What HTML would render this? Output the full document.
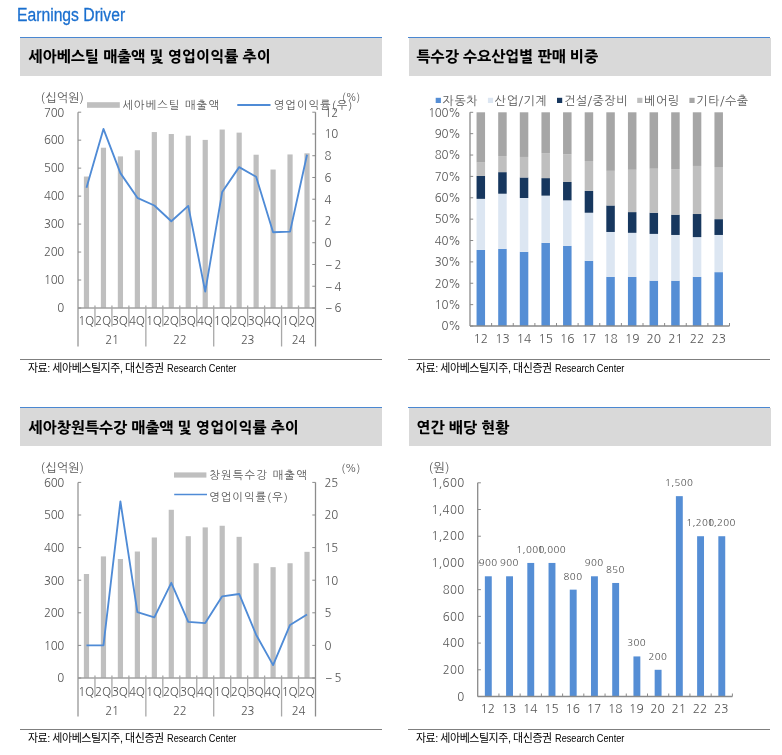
<!DOCTYPE html>
<html lang="ko"><head><meta charset="utf-8"><title>Earnings Driver</title>
<style>
html,body{margin:0;padding:0;background:#fff;}
body{width:782px;height:755px;position:relative;overflow:hidden;font-family:'NanumGothic', 'Noto Sans CJK KR', sans-serif;}
.title{position:absolute;left:17.0px;top:2.6px;font:18px 'Liberation Sans',sans-serif;letter-spacing:0px;transform:scaleX(0.872);transform-origin:0 0;color:#1a6fcf;white-space:nowrap;line-height:24px;-webkit-text-stroke:0.3px #1a6fcf;}
.hd{position:absolute;height:38px;background:#d9d9d9;}
.bl{position:absolute;height:1px;background:#4a87d1;}
.hd span{position:absolute;left:8.5px;top:0px;line-height:37px;font-weight:800;font-size:15px;color:#000;white-space:nowrap;font-family:'Liberation Sans','NanumGothic',sans-serif;letter-spacing:0px;}
.src{position:absolute;height:0;border-top:1px solid #7f7f7f;}
.src span{position:absolute;left:7.9px;top:1px;font-size:11px;line-height:14px;color:#000;white-space:nowrap;letter-spacing:-0.47px;font-family:'Liberation Sans','Noto Sans CJK KR',sans-serif;}
.src span b{font-weight:normal;letter-spacing:0px;display:inline-block;transform:scaleX(0.835);margin-left:1px;transform-origin:0 0;}
svg{position:absolute;left:0;top:0;}
</style></head>
<body>
<div class="title">Earnings Driver</div>
<div class="bl" style="left:20px;top:37px;width:362px;"></div>
<div class="hd" style="left:20px;top:38px;width:362px;"><span>세아베스틸 매출액 및 영업이익률 추이</span></div>
<div class="bl" style="left:408px;top:37px;width:362px;"></div>
<div class="hd" style="left:409px;top:38px;width:362px;"><span style="left:7.5px">특수강 수요산업별 판매 비중</span></div>
<div class="bl" style="left:20px;top:407px;width:362px;"></div>
<div class="hd" style="left:20px;top:408px;width:362px;"><span style="top:0.8px">세아창원특수강 매출액 및 영업이익률 추이</span></div>
<div class="bl" style="left:408px;top:407px;width:362px;"></div>
<div class="hd" style="left:409px;top:408px;width:362px;"><span style="left:7.5px;top:0.8px">연간 배당 현황</span></div>
<div class="src" style="left:20px;top:359px;width:362px;"><span>자료: 세아베스틸지주, 대신증권 <b>Research Center</b></span></div>
<div class="src" style="left:408px;top:359px;width:362px;"><span>자료: 세아베스틸지주, 대신증권 <b>Research Center</b></span></div>
<div class="src" style="left:20px;top:729px;width:362px;"><span>자료: 세아베스틸지주, 대신증권 <b>Research Center</b></span></div>
<div class="src" style="left:408px;top:729px;width:362px;"><span>자료: 세아베스틸지주, 대신증권 <b>Research Center</b></span></div>
<svg width="782" height="755" viewBox="0 0 782 755" shape-rendering="crispEdges">
<g shape-rendering="auto">
<rect x="83.88" y="176.53" width="5.2" height="131.47" fill="#bfbfbf"/>
<rect x="100.85" y="147.72" width="5.2" height="160.28" fill="#bfbfbf"/>
<rect x="117.81" y="156.39" width="5.2" height="151.61" fill="#bfbfbf"/>
<rect x="134.78" y="150.24" width="5.2" height="157.76" fill="#bfbfbf"/>
<rect x="151.74" y="132.06" width="5.2" height="175.94" fill="#bfbfbf"/>
<rect x="168.7" y="134.02" width="5.2" height="173.98" fill="#bfbfbf"/>
<rect x="185.67" y="135.7" width="5.2" height="172.3" fill="#bfbfbf"/>
<rect x="202.63" y="139.89" width="5.2" height="168.11" fill="#bfbfbf"/>
<rect x="219.6" y="129.54" width="5.2" height="178.46" fill="#bfbfbf"/>
<rect x="236.56" y="132.62" width="5.2" height="175.38" fill="#bfbfbf"/>
<rect x="253.53" y="154.72" width="5.2" height="153.28" fill="#bfbfbf"/>
<rect x="270.49" y="169.54" width="5.2" height="138.46" fill="#bfbfbf"/>
<rect x="287.45" y="154.44" width="5.2" height="153.56" fill="#bfbfbf"/>
<rect x="304.42" y="153.32" width="5.2" height="154.68" fill="#bfbfbf"/>
<line x1="78" y1="112.2" x2="78" y2="346.5" stroke="#b8b8b8" stroke-width="1.9"/>
<line x1="315.5" y1="112.2" x2="315.5" y2="346.5" stroke="#8c8c8c" stroke-width="1.3"/>
<line x1="78" y1="308" x2="315.5" y2="308" stroke="#a2a2a2" stroke-width="1.6"/>
<line x1="78" y1="308" x2="81.2" y2="308" stroke="#8c8c8c" stroke-width="1"/>
<line x1="78" y1="280.03" x2="81.2" y2="280.03" stroke="#8c8c8c" stroke-width="1"/>
<line x1="78" y1="252.06" x2="81.2" y2="252.06" stroke="#8c8c8c" stroke-width="1"/>
<line x1="78" y1="224.09" x2="81.2" y2="224.09" stroke="#8c8c8c" stroke-width="1"/>
<line x1="78" y1="196.11" x2="81.2" y2="196.11" stroke="#8c8c8c" stroke-width="1"/>
<line x1="78" y1="168.14" x2="81.2" y2="168.14" stroke="#8c8c8c" stroke-width="1"/>
<line x1="78" y1="140.17" x2="81.2" y2="140.17" stroke="#8c8c8c" stroke-width="1"/>
<line x1="78" y1="112.2" x2="81.2" y2="112.2" stroke="#8c8c8c" stroke-width="1"/>
<line x1="312.3" y1="308" x2="315.5" y2="308" stroke="#8a8a8a" stroke-width="1"/>
<line x1="312.3" y1="286.24" x2="315.5" y2="286.24" stroke="#8a8a8a" stroke-width="1"/>
<line x1="312.3" y1="264.49" x2="315.5" y2="264.49" stroke="#8a8a8a" stroke-width="1"/>
<line x1="312.3" y1="242.73" x2="315.5" y2="242.73" stroke="#8a8a8a" stroke-width="1"/>
<line x1="312.3" y1="220.98" x2="315.5" y2="220.98" stroke="#8a8a8a" stroke-width="1"/>
<line x1="312.3" y1="199.22" x2="315.5" y2="199.22" stroke="#8a8a8a" stroke-width="1"/>
<line x1="312.3" y1="177.47" x2="315.5" y2="177.47" stroke="#8a8a8a" stroke-width="1"/>
<line x1="312.3" y1="155.71" x2="315.5" y2="155.71" stroke="#8a8a8a" stroke-width="1"/>
<line x1="312.3" y1="133.96" x2="315.5" y2="133.96" stroke="#8a8a8a" stroke-width="1"/>
<line x1="312.3" y1="112.2" x2="315.5" y2="112.2" stroke="#8a8a8a" stroke-width="1"/>
<line x1="94.96" y1="305.5" x2="94.96" y2="326.6" stroke="#a8a8a8" stroke-width="1.3"/>
<line x1="111.93" y1="305.5" x2="111.93" y2="326.6" stroke="#a8a8a8" stroke-width="1.3"/>
<line x1="128.89" y1="305.5" x2="128.89" y2="326.6" stroke="#a8a8a8" stroke-width="1.3"/>
<line x1="145.86" y1="305.5" x2="145.86" y2="346.5" stroke="#a8a8a8" stroke-width="1.3"/>
<line x1="162.82" y1="305.5" x2="162.82" y2="326.6" stroke="#a8a8a8" stroke-width="1.3"/>
<line x1="179.79" y1="305.5" x2="179.79" y2="326.6" stroke="#a8a8a8" stroke-width="1.3"/>
<line x1="196.75" y1="305.5" x2="196.75" y2="326.6" stroke="#a8a8a8" stroke-width="1.3"/>
<line x1="213.71" y1="305.5" x2="213.71" y2="346.5" stroke="#a8a8a8" stroke-width="1.3"/>
<line x1="230.68" y1="305.5" x2="230.68" y2="326.6" stroke="#a8a8a8" stroke-width="1.3"/>
<line x1="247.64" y1="305.5" x2="247.64" y2="326.6" stroke="#a8a8a8" stroke-width="1.3"/>
<line x1="264.61" y1="305.5" x2="264.61" y2="326.6" stroke="#a8a8a8" stroke-width="1.3"/>
<line x1="281.57" y1="305.5" x2="281.57" y2="346.5" stroke="#a8a8a8" stroke-width="1.3"/>
<line x1="298.54" y1="305.5" x2="298.54" y2="326.6" stroke="#a8a8a8" stroke-width="1.3"/>
<polyline points="86.48,187.8 103.45,128.95 120.41,173.12 137.38,197.81 154.34,205.53 171.3,221.3 188.27,205.86 205.23,291.57 222.2,191.93 239.16,167.13 256.12,176.81 273.09,232.29 290.05,231.64 307.02,154.73" fill="none" stroke="#4f8bd6" stroke-width="1.85" stroke-linejoin="round"/>
<text x="64" y="312.3" font-size="11.5" font-family="'NanumGothic', sans-serif" fill="#595959" text-anchor="end" letter-spacing="-0.3">0</text>
<text x="64" y="284.33" font-size="11.5" font-family="'NanumGothic', sans-serif" fill="#595959" text-anchor="end" letter-spacing="-0.3">100</text>
<text x="64" y="256.36" font-size="11.5" font-family="'NanumGothic', sans-serif" fill="#595959" text-anchor="end" letter-spacing="-0.3">200</text>
<text x="64" y="228.39" font-size="11.5" font-family="'NanumGothic', sans-serif" fill="#595959" text-anchor="end" letter-spacing="-0.3">300</text>
<text x="64" y="200.41" font-size="11.5" font-family="'NanumGothic', sans-serif" fill="#595959" text-anchor="end" letter-spacing="-0.3">400</text>
<text x="64" y="172.44" font-size="11.5" font-family="'NanumGothic', sans-serif" fill="#595959" text-anchor="end" letter-spacing="-0.3">500</text>
<text x="64" y="144.47" font-size="11.5" font-family="'NanumGothic', sans-serif" fill="#595959" text-anchor="end" letter-spacing="-0.3">600</text>
<text x="64" y="116.5" font-size="11.5" font-family="'NanumGothic', sans-serif" fill="#595959" text-anchor="end" letter-spacing="-0.3">700</text>
<text x="325.6" y="312.3" font-size="11.5" font-family="'NanumGothic', sans-serif" fill="#595959" text-anchor="start" letter-spacing="-0.3">&#8722;<tspan dx="2.6">6</tspan></text>
<text x="325.6" y="290.54" font-size="11.5" font-family="'NanumGothic', sans-serif" fill="#595959" text-anchor="start" letter-spacing="-0.3">&#8722;<tspan dx="2.6">4</tspan></text>
<text x="325.6" y="268.79" font-size="11.5" font-family="'NanumGothic', sans-serif" fill="#595959" text-anchor="start" letter-spacing="-0.3">&#8722;<tspan dx="2.6">2</tspan></text>
<text x="324.6" y="247.03" font-size="11.5" font-family="'NanumGothic', sans-serif" fill="#595959" text-anchor="start" letter-spacing="-0.3">0</text>
<text x="324.6" y="225.28" font-size="11.5" font-family="'NanumGothic', sans-serif" fill="#595959" text-anchor="start" letter-spacing="-0.3">2</text>
<text x="324.6" y="203.52" font-size="11.5" font-family="'NanumGothic', sans-serif" fill="#595959" text-anchor="start" letter-spacing="-0.3">4</text>
<text x="324.6" y="181.77" font-size="11.5" font-family="'NanumGothic', sans-serif" fill="#595959" text-anchor="start" letter-spacing="-0.3">6</text>
<text x="324.6" y="160.01" font-size="11.5" font-family="'NanumGothic', sans-serif" fill="#595959" text-anchor="start" letter-spacing="-0.3">8</text>
<text x="324.6" y="138.26" font-size="11.5" font-family="'NanumGothic', sans-serif" fill="#595959" text-anchor="start" letter-spacing="-0.3">10</text>
<text x="324.6" y="116.5" font-size="11.5" font-family="'NanumGothic', sans-serif" fill="#595959" text-anchor="start" letter-spacing="-0.3">12</text>
<text x="85.98" y="325.4" font-size="11.7" font-family="'NanumGothic', sans-serif" fill="#595959" text-anchor="middle" letter-spacing="-0.3">1Q</text>
<text x="102.95" y="325.4" font-size="11.7" font-family="'NanumGothic', sans-serif" fill="#595959" text-anchor="middle" letter-spacing="-0.3">2Q</text>
<text x="119.91" y="325.4" font-size="11.7" font-family="'NanumGothic', sans-serif" fill="#595959" text-anchor="middle" letter-spacing="-0.3">3Q</text>
<text x="136.88" y="325.4" font-size="11.7" font-family="'NanumGothic', sans-serif" fill="#595959" text-anchor="middle" letter-spacing="-0.3">4Q</text>
<text x="153.84" y="325.4" font-size="11.7" font-family="'NanumGothic', sans-serif" fill="#595959" text-anchor="middle" letter-spacing="-0.3">1Q</text>
<text x="170.8" y="325.4" font-size="11.7" font-family="'NanumGothic', sans-serif" fill="#595959" text-anchor="middle" letter-spacing="-0.3">2Q</text>
<text x="187.77" y="325.4" font-size="11.7" font-family="'NanumGothic', sans-serif" fill="#595959" text-anchor="middle" letter-spacing="-0.3">3Q</text>
<text x="204.73" y="325.4" font-size="11.7" font-family="'NanumGothic', sans-serif" fill="#595959" text-anchor="middle" letter-spacing="-0.3">4Q</text>
<text x="221.7" y="325.4" font-size="11.7" font-family="'NanumGothic', sans-serif" fill="#595959" text-anchor="middle" letter-spacing="-0.3">1Q</text>
<text x="238.66" y="325.4" font-size="11.7" font-family="'NanumGothic', sans-serif" fill="#595959" text-anchor="middle" letter-spacing="-0.3">2Q</text>
<text x="255.62" y="325.4" font-size="11.7" font-family="'NanumGothic', sans-serif" fill="#595959" text-anchor="middle" letter-spacing="-0.3">3Q</text>
<text x="272.59" y="325.4" font-size="11.7" font-family="'NanumGothic', sans-serif" fill="#595959" text-anchor="middle" letter-spacing="-0.3">4Q</text>
<text x="289.55" y="325.4" font-size="11.7" font-family="'NanumGothic', sans-serif" fill="#595959" text-anchor="middle" letter-spacing="-0.3">1Q</text>
<text x="306.52" y="325.4" font-size="11.7" font-family="'NanumGothic', sans-serif" fill="#595959" text-anchor="middle" letter-spacing="-0.3">2Q</text>
<text x="111.93" y="344.3" font-size="11.5" font-family="'NanumGothic', sans-serif" fill="#595959" text-anchor="middle" letter-spacing="-0.3">21</text>
<text x="179.79" y="344.3" font-size="11.5" font-family="'NanumGothic', sans-serif" fill="#595959" text-anchor="middle" letter-spacing="-0.3">22</text>
<text x="247.64" y="344.3" font-size="11.5" font-family="'NanumGothic', sans-serif" fill="#595959" text-anchor="middle" letter-spacing="-0.3">23</text>
<text x="298.54" y="344.3" font-size="11.5" font-family="'NanumGothic', sans-serif" fill="#595959" text-anchor="middle" letter-spacing="-0.3">24</text>
<rect x="83.88" y="574.01" width="5.2" height="103.99" fill="#bfbfbf"/>
<rect x="100.85" y="556.4" width="5.2" height="121.6" fill="#bfbfbf"/>
<rect x="117.81" y="559.01" width="5.2" height="118.99" fill="#bfbfbf"/>
<rect x="134.78" y="551.51" width="5.2" height="126.49" fill="#bfbfbf"/>
<rect x="151.74" y="537.49" width="5.2" height="140.51" fill="#bfbfbf"/>
<rect x="168.7" y="509.78" width="5.2" height="168.22" fill="#bfbfbf"/>
<rect x="185.67" y="536.19" width="5.2" height="141.81" fill="#bfbfbf"/>
<rect x="202.63" y="527.39" width="5.2" height="150.61" fill="#bfbfbf"/>
<rect x="219.6" y="525.76" width="5.2" height="152.24" fill="#bfbfbf"/>
<rect x="236.56" y="536.84" width="5.2" height="141.16" fill="#bfbfbf"/>
<rect x="253.53" y="563.25" width="5.2" height="114.75" fill="#bfbfbf"/>
<rect x="270.49" y="567.16" width="5.2" height="110.84" fill="#bfbfbf"/>
<rect x="287.45" y="563.25" width="5.2" height="114.75" fill="#bfbfbf"/>
<rect x="304.42" y="551.84" width="5.2" height="126.16" fill="#bfbfbf"/>
<line x1="78" y1="482.4" x2="78" y2="716.5" stroke="#b8b8b8" stroke-width="1.9"/>
<line x1="315.5" y1="482.4" x2="315.5" y2="716.5" stroke="#8c8c8c" stroke-width="1.3"/>
<line x1="78" y1="678" x2="315.5" y2="678" stroke="#a2a2a2" stroke-width="1.6"/>
<line x1="78" y1="678" x2="81.2" y2="678" stroke="#8c8c8c" stroke-width="1"/>
<line x1="78" y1="645.4" x2="81.2" y2="645.4" stroke="#8c8c8c" stroke-width="1"/>
<line x1="78" y1="612.8" x2="81.2" y2="612.8" stroke="#8c8c8c" stroke-width="1"/>
<line x1="78" y1="580.2" x2="81.2" y2="580.2" stroke="#8c8c8c" stroke-width="1"/>
<line x1="78" y1="547.6" x2="81.2" y2="547.6" stroke="#8c8c8c" stroke-width="1"/>
<line x1="78" y1="515" x2="81.2" y2="515" stroke="#8c8c8c" stroke-width="1"/>
<line x1="78" y1="482.4" x2="81.2" y2="482.4" stroke="#8c8c8c" stroke-width="1"/>
<line x1="312.3" y1="678" x2="315.5" y2="678" stroke="#8a8a8a" stroke-width="1"/>
<line x1="312.3" y1="645.4" x2="315.5" y2="645.4" stroke="#8a8a8a" stroke-width="1"/>
<line x1="312.3" y1="612.8" x2="315.5" y2="612.8" stroke="#8a8a8a" stroke-width="1"/>
<line x1="312.3" y1="580.2" x2="315.5" y2="580.2" stroke="#8a8a8a" stroke-width="1"/>
<line x1="312.3" y1="547.6" x2="315.5" y2="547.6" stroke="#8a8a8a" stroke-width="1"/>
<line x1="312.3" y1="515" x2="315.5" y2="515" stroke="#8a8a8a" stroke-width="1"/>
<line x1="312.3" y1="482.4" x2="315.5" y2="482.4" stroke="#8a8a8a" stroke-width="1"/>
<line x1="94.96" y1="675.5" x2="94.96" y2="697.2" stroke="#a8a8a8" stroke-width="1.3"/>
<line x1="111.93" y1="675.5" x2="111.93" y2="697.2" stroke="#a8a8a8" stroke-width="1.3"/>
<line x1="128.89" y1="675.5" x2="128.89" y2="697.2" stroke="#a8a8a8" stroke-width="1.3"/>
<line x1="145.86" y1="675.5" x2="145.86" y2="716.5" stroke="#a8a8a8" stroke-width="1.3"/>
<line x1="162.82" y1="675.5" x2="162.82" y2="697.2" stroke="#a8a8a8" stroke-width="1.3"/>
<line x1="179.79" y1="675.5" x2="179.79" y2="697.2" stroke="#a8a8a8" stroke-width="1.3"/>
<line x1="196.75" y1="675.5" x2="196.75" y2="697.2" stroke="#a8a8a8" stroke-width="1.3"/>
<line x1="213.71" y1="675.5" x2="213.71" y2="716.5" stroke="#a8a8a8" stroke-width="1.3"/>
<line x1="230.68" y1="675.5" x2="230.68" y2="697.2" stroke="#a8a8a8" stroke-width="1.3"/>
<line x1="247.64" y1="675.5" x2="247.64" y2="697.2" stroke="#a8a8a8" stroke-width="1.3"/>
<line x1="264.61" y1="675.5" x2="264.61" y2="697.2" stroke="#a8a8a8" stroke-width="1.3"/>
<line x1="281.57" y1="675.5" x2="281.57" y2="716.5" stroke="#a8a8a8" stroke-width="1.3"/>
<line x1="298.54" y1="675.5" x2="298.54" y2="697.2" stroke="#a8a8a8" stroke-width="1.3"/>
<polyline points="86.48,645.4 103.45,645.4 120.41,501.44 137.38,612.21 154.34,617.36 171.3,582.81 188.27,621.93 205.23,623.1 222.2,596.3 239.16,593.96 256.12,634.71 273.09,665.09 290.05,624.93 307.02,614.5" fill="none" stroke="#4f8bd6" stroke-width="1.85" stroke-linejoin="round"/>
<text x="64" y="682.3" font-size="11.5" font-family="'NanumGothic', sans-serif" fill="#595959" text-anchor="end" letter-spacing="-0.3">0</text>
<text x="64" y="649.7" font-size="11.5" font-family="'NanumGothic', sans-serif" fill="#595959" text-anchor="end" letter-spacing="-0.3">100</text>
<text x="64" y="617.1" font-size="11.5" font-family="'NanumGothic', sans-serif" fill="#595959" text-anchor="end" letter-spacing="-0.3">200</text>
<text x="64" y="584.5" font-size="11.5" font-family="'NanumGothic', sans-serif" fill="#595959" text-anchor="end" letter-spacing="-0.3">300</text>
<text x="64" y="551.9" font-size="11.5" font-family="'NanumGothic', sans-serif" fill="#595959" text-anchor="end" letter-spacing="-0.3">400</text>
<text x="64" y="519.3" font-size="11.5" font-family="'NanumGothic', sans-serif" fill="#595959" text-anchor="end" letter-spacing="-0.3">500</text>
<text x="64" y="486.7" font-size="11.5" font-family="'NanumGothic', sans-serif" fill="#595959" text-anchor="end" letter-spacing="-0.3">600</text>
<text x="325.6" y="682.3" font-size="11.5" font-family="'NanumGothic', sans-serif" fill="#595959" text-anchor="start" letter-spacing="-0.3">&#8722;<tspan dx="2.6">5</tspan></text>
<text x="324.6" y="649.7" font-size="11.5" font-family="'NanumGothic', sans-serif" fill="#595959" text-anchor="start" letter-spacing="-0.3">0</text>
<text x="324.6" y="617.1" font-size="11.5" font-family="'NanumGothic', sans-serif" fill="#595959" text-anchor="start" letter-spacing="-0.3">5</text>
<text x="324.6" y="584.5" font-size="11.5" font-family="'NanumGothic', sans-serif" fill="#595959" text-anchor="start" letter-spacing="-0.3">10</text>
<text x="324.6" y="551.9" font-size="11.5" font-family="'NanumGothic', sans-serif" fill="#595959" text-anchor="start" letter-spacing="-0.3">15</text>
<text x="324.6" y="519.3" font-size="11.5" font-family="'NanumGothic', sans-serif" fill="#595959" text-anchor="start" letter-spacing="-0.3">20</text>
<text x="324.6" y="486.7" font-size="11.5" font-family="'NanumGothic', sans-serif" fill="#595959" text-anchor="start" letter-spacing="-0.3">25</text>
<text x="85.98" y="695.7" font-size="11.7" font-family="'NanumGothic', sans-serif" fill="#595959" text-anchor="middle" letter-spacing="-0.3">1Q</text>
<text x="102.95" y="695.7" font-size="11.7" font-family="'NanumGothic', sans-serif" fill="#595959" text-anchor="middle" letter-spacing="-0.3">2Q</text>
<text x="119.91" y="695.7" font-size="11.7" font-family="'NanumGothic', sans-serif" fill="#595959" text-anchor="middle" letter-spacing="-0.3">3Q</text>
<text x="136.88" y="695.7" font-size="11.7" font-family="'NanumGothic', sans-serif" fill="#595959" text-anchor="middle" letter-spacing="-0.3">4Q</text>
<text x="153.84" y="695.7" font-size="11.7" font-family="'NanumGothic', sans-serif" fill="#595959" text-anchor="middle" letter-spacing="-0.3">1Q</text>
<text x="170.8" y="695.7" font-size="11.7" font-family="'NanumGothic', sans-serif" fill="#595959" text-anchor="middle" letter-spacing="-0.3">2Q</text>
<text x="187.77" y="695.7" font-size="11.7" font-family="'NanumGothic', sans-serif" fill="#595959" text-anchor="middle" letter-spacing="-0.3">3Q</text>
<text x="204.73" y="695.7" font-size="11.7" font-family="'NanumGothic', sans-serif" fill="#595959" text-anchor="middle" letter-spacing="-0.3">4Q</text>
<text x="221.7" y="695.7" font-size="11.7" font-family="'NanumGothic', sans-serif" fill="#595959" text-anchor="middle" letter-spacing="-0.3">1Q</text>
<text x="238.66" y="695.7" font-size="11.7" font-family="'NanumGothic', sans-serif" fill="#595959" text-anchor="middle" letter-spacing="-0.3">2Q</text>
<text x="255.62" y="695.7" font-size="11.7" font-family="'NanumGothic', sans-serif" fill="#595959" text-anchor="middle" letter-spacing="-0.3">3Q</text>
<text x="272.59" y="695.7" font-size="11.7" font-family="'NanumGothic', sans-serif" fill="#595959" text-anchor="middle" letter-spacing="-0.3">4Q</text>
<text x="289.55" y="695.7" font-size="11.7" font-family="'NanumGothic', sans-serif" fill="#595959" text-anchor="middle" letter-spacing="-0.3">1Q</text>
<text x="306.52" y="695.7" font-size="11.7" font-family="'NanumGothic', sans-serif" fill="#595959" text-anchor="middle" letter-spacing="-0.3">2Q</text>
<text x="111.93" y="715.2" font-size="11.5" font-family="'NanumGothic', sans-serif" fill="#595959" text-anchor="middle" letter-spacing="-0.3">21</text>
<text x="179.79" y="715.2" font-size="11.5" font-family="'NanumGothic', sans-serif" fill="#595959" text-anchor="middle" letter-spacing="-0.3">22</text>
<text x="247.64" y="715.2" font-size="11.5" font-family="'NanumGothic', sans-serif" fill="#595959" text-anchor="middle" letter-spacing="-0.3">23</text>
<text x="298.54" y="715.2" font-size="11.5" font-family="'NanumGothic', sans-serif" fill="#595959" text-anchor="middle" letter-spacing="-0.3">24</text>
<rect x="476.56" y="249.92" width="8.5" height="76.08" fill="#558ed5"/>
<rect x="476.56" y="198.85" width="8.5" height="51.07" fill="#dce6f2"/>
<rect x="476.56" y="175.98" width="8.5" height="22.87" fill="#17375e"/>
<rect x="476.56" y="162.52" width="8.5" height="13.46" fill="#bfbfbf"/>
<rect x="476.56" y="112.3" width="8.5" height="50.22" fill="#a6a6a6"/>
<rect x="498.19" y="248.85" width="8.5" height="77.15" fill="#558ed5"/>
<rect x="498.19" y="193.72" width="8.5" height="55.13" fill="#dce6f2"/>
<rect x="498.19" y="172.14" width="8.5" height="21.58" fill="#17375e"/>
<rect x="498.19" y="156.11" width="8.5" height="16.03" fill="#bfbfbf"/>
<rect x="498.19" y="112.3" width="8.5" height="43.81" fill="#a6a6a6"/>
<rect x="519.81" y="251.85" width="8.5" height="74.15" fill="#558ed5"/>
<rect x="519.81" y="197.99" width="8.5" height="53.85" fill="#dce6f2"/>
<rect x="519.81" y="177.48" width="8.5" height="20.52" fill="#17375e"/>
<rect x="519.81" y="156.96" width="8.5" height="20.52" fill="#bfbfbf"/>
<rect x="519.81" y="112.3" width="8.5" height="44.66" fill="#a6a6a6"/>
<rect x="541.44" y="242.87" width="8.5" height="83.13" fill="#558ed5"/>
<rect x="541.44" y="195.64" width="8.5" height="47.23" fill="#dce6f2"/>
<rect x="541.44" y="178.12" width="8.5" height="17.52" fill="#17375e"/>
<rect x="541.44" y="153.12" width="8.5" height="25" fill="#bfbfbf"/>
<rect x="541.44" y="112.3" width="8.5" height="40.82" fill="#a6a6a6"/>
<rect x="563.06" y="245.86" width="8.5" height="80.14" fill="#558ed5"/>
<rect x="563.06" y="200.34" width="8.5" height="45.52" fill="#dce6f2"/>
<rect x="563.06" y="181.97" width="8.5" height="18.38" fill="#17375e"/>
<rect x="563.06" y="154.19" width="8.5" height="27.78" fill="#bfbfbf"/>
<rect x="563.06" y="112.3" width="8.5" height="41.89" fill="#a6a6a6"/>
<rect x="584.69" y="260.82" width="8.5" height="65.18" fill="#558ed5"/>
<rect x="584.69" y="212.74" width="8.5" height="48.08" fill="#dce6f2"/>
<rect x="584.69" y="190.94" width="8.5" height="21.8" fill="#17375e"/>
<rect x="584.69" y="161.02" width="8.5" height="29.92" fill="#bfbfbf"/>
<rect x="584.69" y="112.3" width="8.5" height="48.72" fill="#a6a6a6"/>
<rect x="606.31" y="276.85" width="8.5" height="49.15" fill="#558ed5"/>
<rect x="606.31" y="231.97" width="8.5" height="44.88" fill="#dce6f2"/>
<rect x="606.31" y="205.47" width="8.5" height="26.5" fill="#17375e"/>
<rect x="606.31" y="170.85" width="8.5" height="34.62" fill="#bfbfbf"/>
<rect x="606.31" y="112.3" width="8.5" height="58.55" fill="#a6a6a6"/>
<rect x="627.94" y="276.85" width="8.5" height="49.15" fill="#558ed5"/>
<rect x="627.94" y="232.83" width="8.5" height="44.02" fill="#dce6f2"/>
<rect x="627.94" y="212.1" width="8.5" height="20.73" fill="#17375e"/>
<rect x="627.94" y="169.79" width="8.5" height="42.31" fill="#bfbfbf"/>
<rect x="627.94" y="112.3" width="8.5" height="57.49" fill="#a6a6a6"/>
<rect x="649.56" y="280.7" width="8.5" height="45.3" fill="#558ed5"/>
<rect x="649.56" y="233.9" width="8.5" height="46.8" fill="#dce6f2"/>
<rect x="649.56" y="212.74" width="8.5" height="21.16" fill="#17375e"/>
<rect x="649.56" y="168.72" width="8.5" height="44.02" fill="#bfbfbf"/>
<rect x="649.56" y="112.3" width="8.5" height="56.42" fill="#a6a6a6"/>
<rect x="671.19" y="280.7" width="8.5" height="45.3" fill="#558ed5"/>
<rect x="671.19" y="234.96" width="8.5" height="45.73" fill="#dce6f2"/>
<rect x="671.19" y="214.66" width="8.5" height="20.3" fill="#17375e"/>
<rect x="671.19" y="169.14" width="8.5" height="45.52" fill="#bfbfbf"/>
<rect x="671.19" y="112.3" width="8.5" height="56.84" fill="#a6a6a6"/>
<rect x="692.81" y="276.85" width="8.5" height="49.15" fill="#558ed5"/>
<rect x="692.81" y="237.1" width="8.5" height="39.75" fill="#dce6f2"/>
<rect x="692.81" y="214.02" width="8.5" height="23.08" fill="#17375e"/>
<rect x="692.81" y="165.94" width="8.5" height="48.08" fill="#bfbfbf"/>
<rect x="692.81" y="112.3" width="8.5" height="53.64" fill="#a6a6a6"/>
<rect x="714.44" y="272.15" width="8.5" height="53.85" fill="#558ed5"/>
<rect x="714.44" y="234.96" width="8.5" height="37.18" fill="#dce6f2"/>
<rect x="714.44" y="219.15" width="8.5" height="15.81" fill="#17375e"/>
<rect x="714.44" y="167.01" width="8.5" height="52.14" fill="#bfbfbf"/>
<rect x="714.44" y="112.3" width="8.5" height="54.71" fill="#a6a6a6"/>
<line x1="470" y1="112.3" x2="470" y2="326" stroke="#8a8a8a" stroke-width="1.3"/>
<line x1="470" y1="326" x2="729.5" y2="326" stroke="#8a8a8a" stroke-width="1.3"/>
<line x1="470" y1="326" x2="473.2" y2="326" stroke="#8a8a8a" stroke-width="1"/>
<text x="460.6" y="330.3" font-size="11.5" font-family="'NanumGothic', sans-serif" fill="#595959" text-anchor="end" letter-spacing="-0.25">0%</text>
<line x1="470" y1="304.63" x2="473.2" y2="304.63" stroke="#8a8a8a" stroke-width="1"/>
<text x="460.6" y="308.93" font-size="11.5" font-family="'NanumGothic', sans-serif" fill="#595959" text-anchor="end" letter-spacing="-0.25">10%</text>
<line x1="470" y1="283.26" x2="473.2" y2="283.26" stroke="#8a8a8a" stroke-width="1"/>
<text x="460.6" y="287.56" font-size="11.5" font-family="'NanumGothic', sans-serif" fill="#595959" text-anchor="end" letter-spacing="-0.25">20%</text>
<line x1="470" y1="261.89" x2="473.2" y2="261.89" stroke="#8a8a8a" stroke-width="1"/>
<text x="460.6" y="266.19" font-size="11.5" font-family="'NanumGothic', sans-serif" fill="#595959" text-anchor="end" letter-spacing="-0.25">30%</text>
<line x1="470" y1="240.52" x2="473.2" y2="240.52" stroke="#8a8a8a" stroke-width="1"/>
<text x="460.6" y="244.82" font-size="11.5" font-family="'NanumGothic', sans-serif" fill="#595959" text-anchor="end" letter-spacing="-0.25">40%</text>
<line x1="470" y1="219.15" x2="473.2" y2="219.15" stroke="#8a8a8a" stroke-width="1"/>
<text x="460.6" y="223.45" font-size="11.5" font-family="'NanumGothic', sans-serif" fill="#595959" text-anchor="end" letter-spacing="-0.25">50%</text>
<line x1="470" y1="197.78" x2="473.2" y2="197.78" stroke="#8a8a8a" stroke-width="1"/>
<text x="460.6" y="202.08" font-size="11.5" font-family="'NanumGothic', sans-serif" fill="#595959" text-anchor="end" letter-spacing="-0.25">60%</text>
<line x1="470" y1="176.41" x2="473.2" y2="176.41" stroke="#8a8a8a" stroke-width="1"/>
<text x="460.6" y="180.71" font-size="11.5" font-family="'NanumGothic', sans-serif" fill="#595959" text-anchor="end" letter-spacing="-0.25">70%</text>
<line x1="470" y1="155.04" x2="473.2" y2="155.04" stroke="#8a8a8a" stroke-width="1"/>
<text x="460.6" y="159.34" font-size="11.5" font-family="'NanumGothic', sans-serif" fill="#595959" text-anchor="end" letter-spacing="-0.25">80%</text>
<line x1="470" y1="133.67" x2="473.2" y2="133.67" stroke="#8a8a8a" stroke-width="1"/>
<text x="460.6" y="137.97" font-size="11.5" font-family="'NanumGothic', sans-serif" fill="#595959" text-anchor="end" letter-spacing="-0.25">90%</text>
<line x1="470" y1="112.3" x2="473.2" y2="112.3" stroke="#8a8a8a" stroke-width="1"/>
<text x="460.6" y="116.6" font-size="11.5" font-family="'NanumGothic', sans-serif" fill="#595959" text-anchor="end" letter-spacing="-0.25">100%</text>
<line x1="491.62" y1="323" x2="491.62" y2="326" stroke="#8a8a8a" stroke-width="1"/>
<line x1="513.25" y1="323" x2="513.25" y2="326" stroke="#8a8a8a" stroke-width="1"/>
<line x1="534.88" y1="323" x2="534.88" y2="326" stroke="#8a8a8a" stroke-width="1"/>
<line x1="556.5" y1="323" x2="556.5" y2="326" stroke="#8a8a8a" stroke-width="1"/>
<line x1="578.12" y1="323" x2="578.12" y2="326" stroke="#8a8a8a" stroke-width="1"/>
<line x1="599.75" y1="323" x2="599.75" y2="326" stroke="#8a8a8a" stroke-width="1"/>
<line x1="621.38" y1="323" x2="621.38" y2="326" stroke="#8a8a8a" stroke-width="1"/>
<line x1="643" y1="323" x2="643" y2="326" stroke="#8a8a8a" stroke-width="1"/>
<line x1="664.62" y1="323" x2="664.62" y2="326" stroke="#8a8a8a" stroke-width="1"/>
<line x1="686.25" y1="323" x2="686.25" y2="326" stroke="#8a8a8a" stroke-width="1"/>
<line x1="707.88" y1="323" x2="707.88" y2="326" stroke="#8a8a8a" stroke-width="1"/>
<line x1="729.5" y1="323" x2="729.5" y2="326" stroke="#8a8a8a" stroke-width="1"/>
<text x="480.81" y="343.3" font-size="12" font-family="'NanumGothic', sans-serif" fill="#595959" text-anchor="middle">12</text>
<text x="502.44" y="343.3" font-size="12" font-family="'NanumGothic', sans-serif" fill="#595959" text-anchor="middle">13</text>
<text x="524.06" y="343.3" font-size="12" font-family="'NanumGothic', sans-serif" fill="#595959" text-anchor="middle">14</text>
<text x="545.69" y="343.3" font-size="12" font-family="'NanumGothic', sans-serif" fill="#595959" text-anchor="middle">15</text>
<text x="567.31" y="343.3" font-size="12" font-family="'NanumGothic', sans-serif" fill="#595959" text-anchor="middle">16</text>
<text x="588.94" y="343.3" font-size="12" font-family="'NanumGothic', sans-serif" fill="#595959" text-anchor="middle">17</text>
<text x="610.56" y="343.3" font-size="12" font-family="'NanumGothic', sans-serif" fill="#595959" text-anchor="middle">18</text>
<text x="632.19" y="343.3" font-size="12" font-family="'NanumGothic', sans-serif" fill="#595959" text-anchor="middle">19</text>
<text x="653.81" y="343.3" font-size="12" font-family="'NanumGothic', sans-serif" fill="#595959" text-anchor="middle">20</text>
<text x="675.44" y="343.3" font-size="12" font-family="'NanumGothic', sans-serif" fill="#595959" text-anchor="middle">21</text>
<text x="697.06" y="343.3" font-size="12" font-family="'NanumGothic', sans-serif" fill="#595959" text-anchor="middle">22</text>
<text x="718.69" y="343.3" font-size="12" font-family="'NanumGothic', sans-serif" fill="#595959" text-anchor="middle">23</text>
<rect x="435.7" y="97.8" width="5.2" height="5.2" fill="#558ed5"/>
<text x="442.6" y="105.3" font-size="12" font-family="'NanumGothic', 'Noto Sans CJK KR', sans-serif" fill="#595959" text-anchor="start" letter-spacing="0.55">자동차</text>
<rect x="487.9" y="97.8" width="5.2" height="5.2" fill="#dce6f2"/>
<text x="494.8" y="105.3" font-size="12" font-family="'NanumGothic', 'Noto Sans CJK KR', sans-serif" fill="#595959" text-anchor="start" letter-spacing="0.55">산업/기계</text>
<rect x="557" y="97.8" width="5.2" height="5.2" fill="#17375e"/>
<text x="563.9" y="105.3" font-size="12" font-family="'NanumGothic', 'Noto Sans CJK KR', sans-serif" fill="#595959" text-anchor="start" letter-spacing="0.55">건설/중장비</text>
<rect x="637.2" y="97.8" width="5.2" height="5.2" fill="#bfbfbf"/>
<text x="644.1" y="105.3" font-size="12" font-family="'NanumGothic', 'Noto Sans CJK KR', sans-serif" fill="#595959" text-anchor="start" letter-spacing="0.55">베어링</text>
<rect x="689.4" y="97.8" width="5.2" height="5.2" fill="#a6a6a6"/>
<text x="696.3" y="105.3" font-size="12" font-family="'NanumGothic', 'Noto Sans CJK KR', sans-serif" fill="#595959" text-anchor="start" letter-spacing="0.55">기타/수출</text>
<rect x="484.86" y="576.29" width="6.9" height="120.21" fill="#558ed5"/>
<rect x="506.09" y="576.29" width="6.9" height="120.21" fill="#558ed5"/>
<rect x="527.31" y="562.94" width="6.9" height="133.56" fill="#558ed5"/>
<rect x="548.54" y="562.94" width="6.9" height="133.56" fill="#558ed5"/>
<rect x="569.76" y="589.65" width="6.9" height="106.85" fill="#558ed5"/>
<rect x="590.99" y="576.29" width="6.9" height="120.21" fill="#558ed5"/>
<rect x="612.21" y="582.97" width="6.9" height="113.53" fill="#558ed5"/>
<rect x="633.44" y="656.43" width="6.9" height="40.07" fill="#558ed5"/>
<rect x="654.66" y="669.79" width="6.9" height="26.71" fill="#558ed5"/>
<rect x="675.89" y="496.16" width="6.9" height="200.34" fill="#558ed5"/>
<rect x="697.11" y="536.23" width="6.9" height="160.27" fill="#558ed5"/>
<rect x="718.34" y="536.23" width="6.9" height="160.27" fill="#558ed5"/>
<line x1="477.7" y1="482.8" x2="477.7" y2="696.5" stroke="#8a8a8a" stroke-width="1.3"/>
<line x1="477.7" y1="696.5" x2="732.4" y2="696.5" stroke="#8a8a8a" stroke-width="1.3"/>
<line x1="477.7" y1="696.5" x2="480.9" y2="696.5" stroke="#8a8a8a" stroke-width="1"/>
<text x="464.6" y="700.7" font-size="11.5" font-family="'NanumGothic', sans-serif" fill="#595959" text-anchor="end" letter-spacing="0.35">0</text>
<line x1="477.7" y1="669.79" x2="480.9" y2="669.79" stroke="#8a8a8a" stroke-width="1"/>
<text x="464.6" y="673.99" font-size="11.5" font-family="'NanumGothic', sans-serif" fill="#595959" text-anchor="end" letter-spacing="0.35">200</text>
<line x1="477.7" y1="643.08" x2="480.9" y2="643.08" stroke="#8a8a8a" stroke-width="1"/>
<text x="464.6" y="647.28" font-size="11.5" font-family="'NanumGothic', sans-serif" fill="#595959" text-anchor="end" letter-spacing="0.35">400</text>
<line x1="477.7" y1="616.36" x2="480.9" y2="616.36" stroke="#8a8a8a" stroke-width="1"/>
<text x="464.6" y="620.56" font-size="11.5" font-family="'NanumGothic', sans-serif" fill="#595959" text-anchor="end" letter-spacing="0.35">600</text>
<line x1="477.7" y1="589.65" x2="480.9" y2="589.65" stroke="#8a8a8a" stroke-width="1"/>
<text x="464.6" y="593.85" font-size="11.5" font-family="'NanumGothic', sans-serif" fill="#595959" text-anchor="end" letter-spacing="0.35">800</text>
<line x1="477.7" y1="562.94" x2="480.9" y2="562.94" stroke="#8a8a8a" stroke-width="1"/>
<text x="464.6" y="567.14" font-size="11.5" font-family="'NanumGothic', sans-serif" fill="#595959" text-anchor="end" letter-spacing="0.35">1,000</text>
<line x1="477.7" y1="536.23" x2="480.9" y2="536.23" stroke="#8a8a8a" stroke-width="1"/>
<text x="464.6" y="540.43" font-size="11.5" font-family="'NanumGothic', sans-serif" fill="#595959" text-anchor="end" letter-spacing="0.35">1,200</text>
<line x1="477.7" y1="509.51" x2="480.9" y2="509.51" stroke="#8a8a8a" stroke-width="1"/>
<text x="464.6" y="513.71" font-size="11.5" font-family="'NanumGothic', sans-serif" fill="#595959" text-anchor="end" letter-spacing="0.35">1,400</text>
<line x1="477.7" y1="482.8" x2="480.9" y2="482.8" stroke="#8a8a8a" stroke-width="1"/>
<text x="464.6" y="487" font-size="11.5" font-family="'NanumGothic', sans-serif" fill="#595959" text-anchor="end" letter-spacing="0.35">1,600</text>
<line x1="498.93" y1="693.5" x2="498.93" y2="696.5" stroke="#8a8a8a" stroke-width="1"/>
<line x1="520.15" y1="693.5" x2="520.15" y2="696.5" stroke="#8a8a8a" stroke-width="1"/>
<line x1="541.38" y1="693.5" x2="541.38" y2="696.5" stroke="#8a8a8a" stroke-width="1"/>
<line x1="562.6" y1="693.5" x2="562.6" y2="696.5" stroke="#8a8a8a" stroke-width="1"/>
<line x1="583.82" y1="693.5" x2="583.82" y2="696.5" stroke="#8a8a8a" stroke-width="1"/>
<line x1="605.05" y1="693.5" x2="605.05" y2="696.5" stroke="#8a8a8a" stroke-width="1"/>
<line x1="626.27" y1="693.5" x2="626.27" y2="696.5" stroke="#8a8a8a" stroke-width="1"/>
<line x1="647.5" y1="693.5" x2="647.5" y2="696.5" stroke="#8a8a8a" stroke-width="1"/>
<line x1="668.72" y1="693.5" x2="668.72" y2="696.5" stroke="#8a8a8a" stroke-width="1"/>
<line x1="689.95" y1="693.5" x2="689.95" y2="696.5" stroke="#8a8a8a" stroke-width="1"/>
<line x1="711.17" y1="693.5" x2="711.17" y2="696.5" stroke="#8a8a8a" stroke-width="1"/>
<line x1="732.4" y1="693.5" x2="732.4" y2="696.5" stroke="#8a8a8a" stroke-width="1"/>
<text x="487.81" y="712.9" font-size="12" font-family="'NanumGothic', sans-serif" fill="#595959" text-anchor="middle">12</text>
<text x="509.04" y="712.9" font-size="12" font-family="'NanumGothic', sans-serif" fill="#595959" text-anchor="middle">13</text>
<text x="530.26" y="712.9" font-size="12" font-family="'NanumGothic', sans-serif" fill="#595959" text-anchor="middle">14</text>
<text x="551.49" y="712.9" font-size="12" font-family="'NanumGothic', sans-serif" fill="#595959" text-anchor="middle">15</text>
<text x="572.71" y="712.9" font-size="12" font-family="'NanumGothic', sans-serif" fill="#595959" text-anchor="middle">16</text>
<text x="593.94" y="712.9" font-size="12" font-family="'NanumGothic', sans-serif" fill="#595959" text-anchor="middle">17</text>
<text x="615.16" y="712.9" font-size="12" font-family="'NanumGothic', sans-serif" fill="#595959" text-anchor="middle">18</text>
<text x="636.39" y="712.9" font-size="12" font-family="'NanumGothic', sans-serif" fill="#595959" text-anchor="middle">19</text>
<text x="657.61" y="712.9" font-size="12" font-family="'NanumGothic', sans-serif" fill="#595959" text-anchor="middle">20</text>
<text x="678.84" y="712.9" font-size="12" font-family="'NanumGothic', sans-serif" fill="#595959" text-anchor="middle">21</text>
<text x="700.06" y="712.9" font-size="12" font-family="'NanumGothic', sans-serif" fill="#595959" text-anchor="middle">22</text>
<text x="721.29" y="712.9" font-size="12" font-family="'NanumGothic', sans-serif" fill="#595959" text-anchor="middle">23</text>
<text x="488.11" y="566.19" font-size="9.7" font-family="'NanumGothic', sans-serif" fill="#595959" text-anchor="middle" letter-spacing="0.4">900</text>
<text x="509.34" y="566.19" font-size="9.7" font-family="'NanumGothic', sans-serif" fill="#595959" text-anchor="middle" letter-spacing="0.4">900</text>
<text x="530.56" y="552.84" font-size="9.7" font-family="'NanumGothic', sans-serif" fill="#595959" text-anchor="middle" letter-spacing="0.4">1,000</text>
<text x="551.79" y="552.84" font-size="9.7" font-family="'NanumGothic', sans-serif" fill="#595959" text-anchor="middle" letter-spacing="0.4">1,000</text>
<text x="573.01" y="579.55" font-size="9.7" font-family="'NanumGothic', sans-serif" fill="#595959" text-anchor="middle" letter-spacing="0.4">800</text>
<text x="594.24" y="566.19" font-size="9.7" font-family="'NanumGothic', sans-serif" fill="#595959" text-anchor="middle" letter-spacing="0.4">900</text>
<text x="615.46" y="572.87" font-size="9.7" font-family="'NanumGothic', sans-serif" fill="#595959" text-anchor="middle" letter-spacing="0.4">850</text>
<text x="636.69" y="646.33" font-size="9.7" font-family="'NanumGothic', sans-serif" fill="#595959" text-anchor="middle" letter-spacing="0.4">300</text>
<text x="657.91" y="659.69" font-size="9.7" font-family="'NanumGothic', sans-serif" fill="#595959" text-anchor="middle" letter-spacing="0.4">200</text>
<text x="679.14" y="486.06" font-size="9.7" font-family="'NanumGothic', sans-serif" fill="#595959" text-anchor="middle" letter-spacing="0.4">1,500</text>
<text x="700.36" y="526.12" font-size="9.7" font-family="'NanumGothic', sans-serif" fill="#595959" text-anchor="middle" letter-spacing="0.4">1,200</text>
<text x="721.59" y="526.12" font-size="9.7" font-family="'NanumGothic', sans-serif" fill="#595959" text-anchor="middle" letter-spacing="0.4">1,200</text>
<text x="40.6" y="102.2" font-size="12" font-family="'NanumGothic', 'Noto Sans CJK KR', sans-serif" fill="#595959" text-anchor="start" letter-spacing="0.2">(십억원)</text>
<rect x="87" y="102.2" width="32.8" height="5.6" fill="#bfbfbf"/>
<text x="122.2" y="109.3" font-size="11.2" font-family="'NanumGothic', 'Noto Sans CJK KR', sans-serif" fill="#595959" text-anchor="start" letter-spacing="1.15">세아베스틸 매출액</text>
<line x1="237.3" y1="104.9" x2="270.5" y2="104.9" stroke="#4f8bd6" stroke-width="2"/>
<text x="273.8" y="109.3" font-size="11.2" font-family="'NanumGothic', 'Noto Sans CJK KR', sans-serif" fill="#595959" text-anchor="start" letter-spacing="1.05">영업이익률(우)</text>
<text x="342" y="100.9" font-size="10.0" font-family="'NanumGothic', 'Noto Sans CJK KR', sans-serif" fill="#595959" text-anchor="start">(%)</text>
<text x="40.6" y="472" font-size="12" font-family="'NanumGothic', 'Noto Sans CJK KR', sans-serif" fill="#595959" text-anchor="start" letter-spacing="0.2">(십억원)</text>
<rect x="174" y="472.4" width="32.4" height="5.2" fill="#bfbfbf"/>
<text x="209.2" y="479.4" font-size="11.2" font-family="'NanumGothic', 'Noto Sans CJK KR', sans-serif" fill="#595959" text-anchor="start" letter-spacing="1.25">창원특수강 매출액</text>
<line x1="174.2" y1="494.5" x2="207" y2="494.5" stroke="#4f8bd6" stroke-width="1.7"/>
<text x="209.2" y="500.6" font-size="11.2" font-family="'NanumGothic', 'Noto Sans CJK KR', sans-serif" fill="#595959" text-anchor="start" letter-spacing="1.05">영업이익률(우)</text>
<text x="341.2" y="471.6" font-size="10.6" font-family="'NanumGothic', 'Noto Sans CJK KR', sans-serif" fill="#595959" text-anchor="start">(%)</text>
<text x="428.6" y="471.8" font-size="12.5" font-family="'NanumGothic', 'Noto Sans CJK KR', sans-serif" fill="#595959" text-anchor="start">(원)</text>
</g>
</svg>
</body></html>
